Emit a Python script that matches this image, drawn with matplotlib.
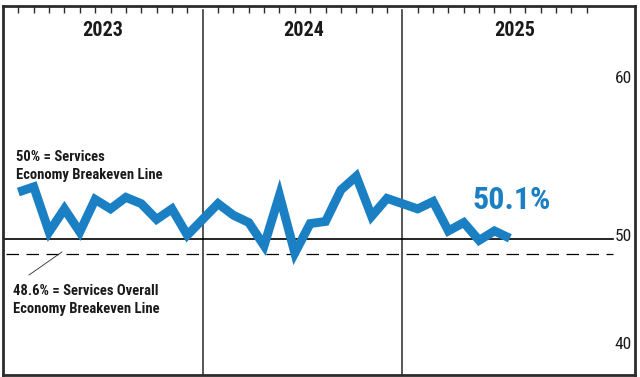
import matplotlib
matplotlib.use("Agg")
import matplotlib.pyplot as plt
from matplotlib import font_manager

## data (ISM services PMI, monthly)
years = ["2023", "2024", "2025"]
pmi_2023 = [54.5, 55.0, 50.7, 52.9, 50.7, 53.8, 52.9, 54.0, 53.4, 51.9, 52.9, 50.4]
pmi_2024 = [53.4, 52.3, 51.6, 49.4, 54.2, 48.7, 51.5, 51.7, 54.7, 56.0, 52.2, 53.9]
pmi_2025 = [52.9, 53.6, 50.8, 51.6, 49.9, 50.8, 50.1]
breakeven = 50.0
overall_breakeven = 48.6
ylabels = ["60", "50", "40"]
last_label = "50.1%"

blue = "#1b80c3"
dark = "#2b2b2b"

# pick the narrowest family that is actually installed
installed = {f.name for f in font_manager.fontManager.ttflist}
stretches = {(f.name, f.stretch) for f in font_manager.fontManager.ttflist}
cond = "DejaVu Sans"
stretch = "normal"
for name in ["Liberation Sans Narrow", "Roboto Condensed", "Open Sans Condensed",
             "Noto Sans Condensed"]:
    if name in installed:
        cond = name
        break
else:
    if any(n == "DejaVu Sans" and s == "condensed" for n, s in stretches):
        stretch = "condensed"
    elif "Roboto" in installed:
        cond = "Roboto"
font = dict(family=cond, fontstretch=stretch)

# each year gets 13 slots: 12 months + a gap at the divider
series = [pmi_2023, pmi_2024, pmi_2025]
xs, ys, ticks = [], [], []
for i, vals in enumerate(series):
    for m in range(12):
        ticks.append(i * 13 + m + 1)
    for m, v in enumerate(vals):
        xs.append(i * 13 + m + 1)
        ys.append(v)

fig = plt.figure(figsize=(6.4, 3.77), dpi=100)
ax = fig.add_axes([3 / 640, 2 / 377, 632 / 640, 369 / 377])
ax.set_xlim(0, 41.15)
ax.set_ylim(37.08, 72.22)

for s in ax.spines.values():
    s.set_color(dark)
    s.set_linewidth(2)

ax.xaxis.tick_top()
ax.set_xticks(ticks)
ax.tick_params(axis="x", direction="in", length=5, width=1, color=dark,
               labeltop=False, labelbottom=False, pad=0)
ax.set_yticks([])

# year dividers
for i in range(1, len(years)):
    ax.axvline(i * 13, ymin=0, ymax=0.988, color="#3a3a3a", lw=1.2)

# breakeven lines
ax.plot([0, 39.7], [breakeven, breakeven], color="black", lw=1.2)
ax.plot([0.2, 39.7], [overall_breakeven, overall_breakeven], color="black",
        lw=0.9, dashes=(10, 6))

ax.plot(xs, ys, color=blue, lw=6.4, solid_joinstyle="miter", solid_capstyle="butt")

# year headers
for i, yr in enumerate(years):
    xc = [6.5, 19.6, 33.3][i]
    ax.text(xc, 69.9, yr, ha="center", va="center", fontsize=14.5,
            fontweight="bold", color="#1a1a1a", **font)

# right side value labels
for lab, yv in zip(ylabels, [65.27, 50.25, 40.0]):
    ax.text(40.4, yv, lab, ha="center", va="center", fontsize=12.5,
            color="#1a1a1a", **font)

ax.text(0.85, 57.0, "50% = Services\nEconomy Breakeven Line", ha="left",
        va="center", fontsize=10.5, fontweight="bold", color="#1a1a1a",
        linespacing=1.4, **font)
ax.text(0.65, 44.2, "48.6% = Services Overall\nEconomy Breakeven Line",
        ha="left", va="center", fontsize=10.5, fontweight="bold",
        color="#1a1a1a", linespacing=1.4, **font)
ax.plot([1.69, 3.84], [46.6, 48.8], color=dark, lw=0.6)

ax.text(30.6, 53.74, last_label, ha="left", va="center", fontsize=23,
        fontweight="bold", color=blue, **font)

fig.savefig("out.png", dpi=100)
